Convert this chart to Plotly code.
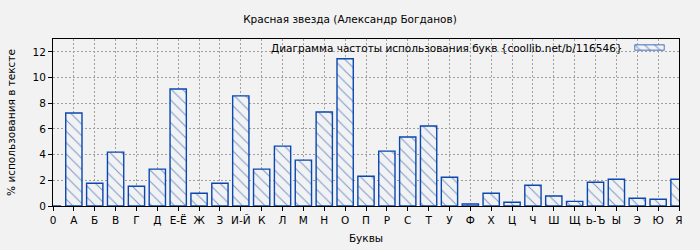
import plotly.graph_objects as go

letters = ["0", "А", "Б", "В", "Г", "Д", "Е-Ё", "Ж", "З", "И-Й", "К", "Л", "М", "Н", "О", "П",
           "Р", "С", "Т", "У", "Ф", "Х", "Ц", "Ч", "Ш", "Щ", "Ь-Ъ", "Ы", "Э", "Ю", "Я"]
values = [0, 7.24, 1.77, 4.19, 1.54, 2.87, 9.11, 0.99, 1.77, 8.57, 2.87, 4.66, 3.57, 7.32, 11.46, 2.32,
          4.27, 5.37, 6.23, 2.24, 0.16, 0.99, 0.29, 1.61, 0.78, 0.36, 1.85, 2.08, 0.60, 0.52, 2.08]
positions = list(range(len(letters)))
yticks = [0, 2, 4, 6, 8, 10, 12]
legend_text = "Диаграмма частоты использования букв {coollib.net/b/116546}"

BG = "#f2f2f2"
BLUE = "#0a47b0"
FONT = "DejaVu Sans"
FS = 10.5

pattern = dict(shape="\\", fgcolor=BLUE, bgcolor=BG, size=8, solidity=0.14)

fig = go.Figure()
fig.add_trace(go.Bar(
    x=positions, y=values, width=0.78,
    marker=dict(color=BG, line=dict(color=BLUE, width=1.4), pattern=pattern),
    showlegend=False,
))
# legend swatch
fig.add_trace(go.Bar(
    x=[0.5], y=[1], width=1, xaxis="x2", yaxis="y2",
    marker=dict(color=BG, line=dict(color=BLUE, width=1.4),
                pattern=dict(shape="\\", fgcolor=BLUE, bgcolor=BG, size=7, solidity=0.16)),
    showlegend=False, hoverinfo="skip",
))

W, H = 700, 250
L, R, T, B = 53, 21, 39, 44
pw, ph = W - L - R, H - T - B

def fx(px):
    return (px - L) / pw

def fy(py):
    return (H - B - py) / ph

axis_common = dict(
    showline=True, linecolor="#000", linewidth=1, mirror=True,
    ticks="outside", ticklen=4, tickcolor="#000",
    showgrid=True, gridcolor="#a0a0a0", griddash="2px,2px", gridwidth=1,
    zeroline=False, automargin=False, tickfont=dict(size=FS),
)

fig.update_layout(
    width=W, height=H,
    margin=dict(l=L, r=R, t=T, b=B, autoexpand=False),
    paper_bgcolor=BG, plot_bgcolor=BG,
    font=dict(family=FONT, size=FS, color="#000"),
    title=dict(text="Красная звезда (Александр Богданов)", x=0.5, xanchor="center",
               y=1 - 19.5 / H, yanchor="middle", font=dict(size=FS)),
    showlegend=False,
    xaxis=dict(range=[0, 30], tickvals=positions, ticktext=letters, tickangle=0,
               title=dict(text="Буквы", standoff=10, font=dict(size=FS)), **axis_common),
    yaxis=dict(range=[0, 13], tickvals=yticks,
               title=dict(text="% использования в тексте", standoff=14, font=dict(size=FS)), **axis_common),
    xaxis2=dict(domain=[fx(634.5), fx(664.5)], range=[0, 1], anchor="y2", visible=False, fixedrange=True),
    yaxis2=dict(domain=[fy(50.5), fy(44.5)], range=[0, 1], anchor="x2", visible=False, fixedrange=True),
    annotations=[dict(text=legend_text, xref="paper", yref="paper", x=fx(625), y=fy(47.5),
                      xanchor="right", yanchor="middle", showarrow=False, font=dict(size=FS))],
)

fig.write_html("out.html")
